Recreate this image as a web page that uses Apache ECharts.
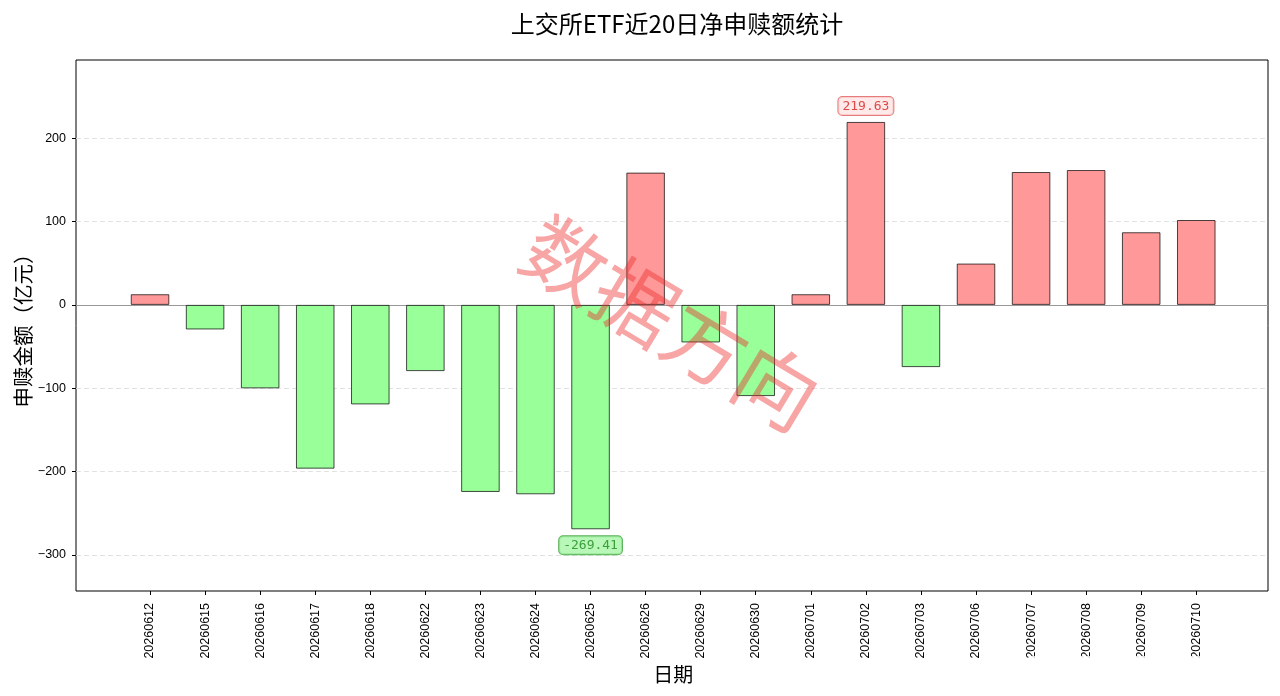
<!DOCTYPE html>
<html>
<head>
<meta charset="utf-8">
<title>上交所ETF近20日净申赎额统计</title>
<script src="https://cdn.jsdelivr.net/npm/echarts@6/dist/echarts.min.js"></script>
<style>
html, body { margin:0; padding:0; background:#fff; }
#main { width:1280px; height:696px; }
</style>
</head>
<body>
<div id="main"></div>
<script>
// 日期 & 净申赎额（亿元）
var dates = ['20260612','20260615','20260616','20260617','20260618','20260622','20260623','20260624','20260625','20260626',
             '20260629','20260630','20260701','20260702','20260703','20260706','20260707','20260708','20260709','20260710'];
var flows = [12.8, -29.5, -100.2, -196.6, -119.5, -79.5, -224.6, -227.4, -269.41, 158.8,
             -45.1, -109.5, 12.8, 219.63, -74.7, 49.6, 159.5, 161.9, 87.2, 101.9];
var yTicks = [-300, -200, -100, 0, 100, 200];
var yRange = [-343.5, 294];

var CJK = '"Noto Sans CJK SC", sans-serif';
var LAT = '"Liberation Sans", Arial, sans-serif';

var maxIdx = 0, minIdx = 0;
flows.forEach(function (v, i) {
    if (v > flows[maxIdx]) maxIdx = i;
    if (v < flows[minIdx]) minIdx = i;
});

var barData = flows.map(function (v) {
    return {
        value: v,
        itemStyle: { color: v >= 0 ? '#ff9999' : '#99ff99' }
    };
});

// 最大/最小值标注
var noteData = flows.map(function (v, i) {
    if (i === maxIdx) {
        return { value: v, label: { show: true, position: 'top', distance: 7,
            color: '#d62020', backgroundColor: '#ffe4e4', borderColor: '#e05a5a' } };
    }
    if (i === minIdx) {
        return { value: v, label: { show: true, position: 'bottom', distance: 7,
            color: '#1a8a1a', backgroundColor: '#a6f5a6', borderColor: '#2e9e2e' } };
    }
    return '-';
});

var myChart = echarts.init(document.getElementById('main'));

var option = {
    backgroundColor: '#fff',
    animation: false,
    title: {
        text: '上交所ETF近20日净申赎额统计',
        left: 672,
        top: 7,
        textAlign: 'center',
        textStyle: { fontFamily: CJK, fontSize: 24, fontWeight: 'normal', color: '#000' }
    },
    grid: [
        // 外框 + y轴
        { left: 76, right: 12, top: 60, bottom: 105, outerBoundsMode: 'none', containLabel: false,
          show: true, borderColor: '#000', borderWidth: 1, backgroundColor: 'transparent' },
        // 柱子区域
        { left: 122.5, right: 56.2, top: 60, bottom: 105, outerBoundsMode: 'none', containLabel: false }
    ],
    xAxis: [
        {
            type: 'value', gridIndex: 0, min: 0, max: 1,
            axisLine: { show: true, onZero: true, lineStyle: { color: '#999', width: 1.2 } },
            axisTick: { show: false }, axisLabel: { show: false }, splitLine: { show: false }
        },
        {
            type: 'category', gridIndex: 1, data: dates, boundaryGap: true,
            axisLine: { show: false, onZero: false },
            axisTick: { show: true, alignWithLabel: true, length: 4, lineStyle: { color: '#000' } },
            axisLabel: { rotate: 90, margin: 12, fontSize: 12.5, color: '#000', fontFamily: LAT, interval: 0 },
            name: '日期', nameLocation: 'middle', nameGap: 73, nameMoveOverlap: false,
            nameTextStyle: { fontFamily: CJK, fontSize: 20, color: '#000' }
        }
    ],
    yAxis: [
        {
            type: 'value', gridIndex: 0, min: yRange[0], max: yRange[1],
            axisLine: { show: false },
            axisTick: { show: true, length: 4, customValues: yTicks, lineStyle: { color: '#000' } },
            axisLabel: { customValues: yTicks, margin: 10, fontSize: 12.5, color: '#000', fontFamily: LAT,
                         formatter: function (v) { return String(v).replace('-', '\u2212'); } },
            splitLine: { show: true, lineStyle: { color: '#e2e2e2', type: [5, 3], width: 1 } },
            name: '申赎金额（亿元）', nameLocation: 'middle', nameGap: 43, nameMoveOverlap: false,
            nameTextStyle: { fontFamily: CJK, fontSize: 20.5, color: '#000' }
        },
        {
            type: 'value', gridIndex: 1, min: yRange[0], max: yRange[1], show: false
        }
    ],
    series: [
        {
            type: 'bar', xAxisIndex: 1, yAxisIndex: 1,
            barWidth: '70%',
            data: barData,
            itemStyle: { borderColor: 'rgba(0,0,0,0.7)', borderWidth: 1 }
        },
        {
            type: 'scatter', xAxisIndex: 1, yAxisIndex: 1,
            symbolSize: 0, silent: true, z: 5,
            data: noteData,
            label: {
                formatter: function (p) { return p.value.toFixed(2); },
                fontFamily: '"DejaVu Sans Mono", monospace', fontSize: 13,
                padding: [3, 4, 2, 4], borderRadius: 4, borderWidth: 1
            }
        }
    ],
    graphic: [
        {
            type: 'text', x: 671, y: 323, rotation: -31 * Math.PI / 180, z: 100, silent: true,
            style: { text: '数据方向', font: '82px "Noto Sans CJK SC"', fill: 'rgba(235,40,40,0.42)',
                     align: 'center', verticalAlign: 'middle' }
        },
        {
            type: 'rect', z: 100, silent: true,
            shape: { x: 1030, y: 656, width: 250, height: 40 },
            style: { fill: 'rgba(255,255,255,0.85)' }
        }
    ]
};

myChart.setOption(option);
</script>
</body>
</html>
